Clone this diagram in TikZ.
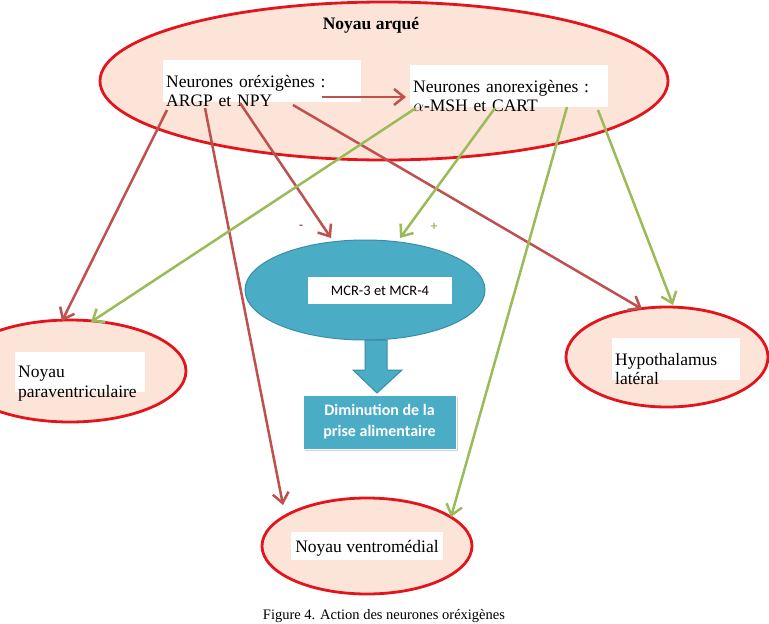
\documentclass[tikz,border=0pt]{standalone}
\usepackage{fontspec}
\setmainfont{Liberation Serif}
\newfontfamily\calibri{Carlito}
\usetikzlibrary{shapes.geometric,arrows.meta,shadows}
\definecolor{nred}{HTML}{E3141C}
\definecolor{peach}{HTML}{FCE5D8}
\definecolor{ared}{HTML}{C0504D}
\definecolor{agreen}{HTML}{9BBB59}
\definecolor{teal}{HTML}{4BACC6}
\definecolor{tealdark}{HTML}{3A8DA8}
\tikzset{
  nucleus/.style={ellipse, draw=nred, line width=2.8pt, fill=peach, inner sep=0pt},
  label box/.style={fill=white, inner sep=3pt, align=left, font=\fontsize{17.5}{19.5}\selectfont, text depth=0pt},
  redarrow/.style={draw=ared, line width=2.5pt, -{Straight Barb[length=10pt,width=16pt,line width=2.5pt]}},
  greenarrow/.style={draw=agreen, line width=2.5pt, -{Straight Barb[length=10pt,width=16pt,line width=2.5pt]}},
}
\begin{document}
\begin{tikzpicture}[x=1pt,y=-1pt]
\useasboundingbox[fill=white] (0,0) rectangle (769,624);
% nuclei
\node[nucleus, minimum width=568pt, minimum height=158pt] (arc) at (384,81) {};
\node[font=\bfseries\fontsize{17.5}{19}\selectfont] (arctitle) at (371,25) {Noyau arqué};
\node[nucleus, minimum width=232pt, minimum height=102pt] (pvn) at (70,371) {};
\node[nucleus, minimum width=202pt, minimum height=100pt] (lh) at (667,357) {};
\node[nucleus, minimum width=210pt, minimum height=96pt] (vmn) at (367,546) {};
% text boxes
\node[label box, minimum width=198pt, minimum height=42pt, anchor=north west, text width=192pt] (orex) at (163,60) {Neurones oréxigènes :\\ARGP et NPY};
\node[label box, minimum width=198pt, minimum height=42pt, anchor=north west, text width=192pt] (anorex) at (410,65) {Neurones anorexigènes :\\$\alpha$-MSH et CART};
\node[label box, minimum width=130pt, minimum height=40pt, anchor=north west, text width=124pt] (pvnt) at (15,352) {Noyau\\paraventriculaire};
\node[label box, minimum width=128pt, minimum height=42pt, anchor=north west, text width=122pt] (lht) at (612,338) {Hypothalamus\\latéral};
\node[label box, align=center, minimum width=152pt, minimum height=28pt] (vmnt) at (367,546) {Noyau ventromédial};
% MCR
\node[ellipse, draw=tealdark, line width=1pt, fill=teal, minimum width=240pt, minimum height=100pt, inner sep=0pt] (mcr) at (365,290) {};
\node[fill=white, minimum width=144pt, minimum height=27pt, font=\calibri\fontsize{14.5}{16}\selectfont, inner sep=2pt] (mcrt) at (380,290.5) {MCR-3 et MCR-4};
\node[fill=teal, draw=white, line width=0.8pt, drop shadow={shadow xshift=1.5pt, shadow yshift=-1.5pt, opacity=0.35}, minimum width=153pt, minimum height=54pt, align=center, text=white, font=\calibri\bfseries\fontsize{16}{21}\selectfont] (dim) at (379.5,422) {Diminution de la\\prise alimentaire};
% block arrow
\filldraw[fill=teal, draw=tealdark, line width=1pt] (365,340) -- (387,340) -- (387,370) -- (402,370) -- (377,393) -- (353,370) -- (365,370) -- cycle;
% inner arrow
\coordinate (o0) at (322,97);
\coordinate (a0) at (406,97);
\draw[redarrow] (o0) -- (a0);
% red arrows
\coordinate (r1s) at (167,110); \coordinate (r1e) at (62,321);
\coordinate (r2s) at (205,108); \coordinate (r2e) at (283,505);
\coordinate (r3s) at (240,103); \coordinate (r3e) at (331,238);
\coordinate (r4s) at (293,105); \coordinate (r4e) at (642,309);
\draw[redarrow] (r1s) -- (r1e);
\draw[redarrow] (r2s) -- (r2e);
\draw[redarrow] (r3s) -- (r3e);
\draw[redarrow] (r4s) -- (r4e);
% green arrows
\coordinate (g1s) at (416,108); \coordinate (g1e) at (91,322);
\coordinate (g2s) at (495,108); \coordinate (g2e) at (400,238);
\coordinate (g3s) at (567,107); \coordinate (g3e) at (451,517);
\coordinate (g4s) at (598,110); \coordinate (g4e) at (673,305);
\draw[greenarrow] (g1s) -- (g1e);
\draw[greenarrow] (g2s) -- (g2e);
\draw[greenarrow] (g3s) -- (g3e);
\draw[greenarrow] (g4s) -- (g4e);
% signs
\node[text=ared, font=\calibri\bfseries\fontsize{13}{14}\selectfont] (minus) at (301,227) {-};
\node[text=agreen, font=\calibri\bfseries\fontsize{13}{14}\selectfont] (plus) at (434,227) {+};
% caption
\node[anchor=base, font=\fontsize{14.5}{16}\selectfont, inner sep=0pt] (cap) at (384,619.5) {Figure 4. Action des neurones oréxigènes};
\end{tikzpicture}
\end{document}
